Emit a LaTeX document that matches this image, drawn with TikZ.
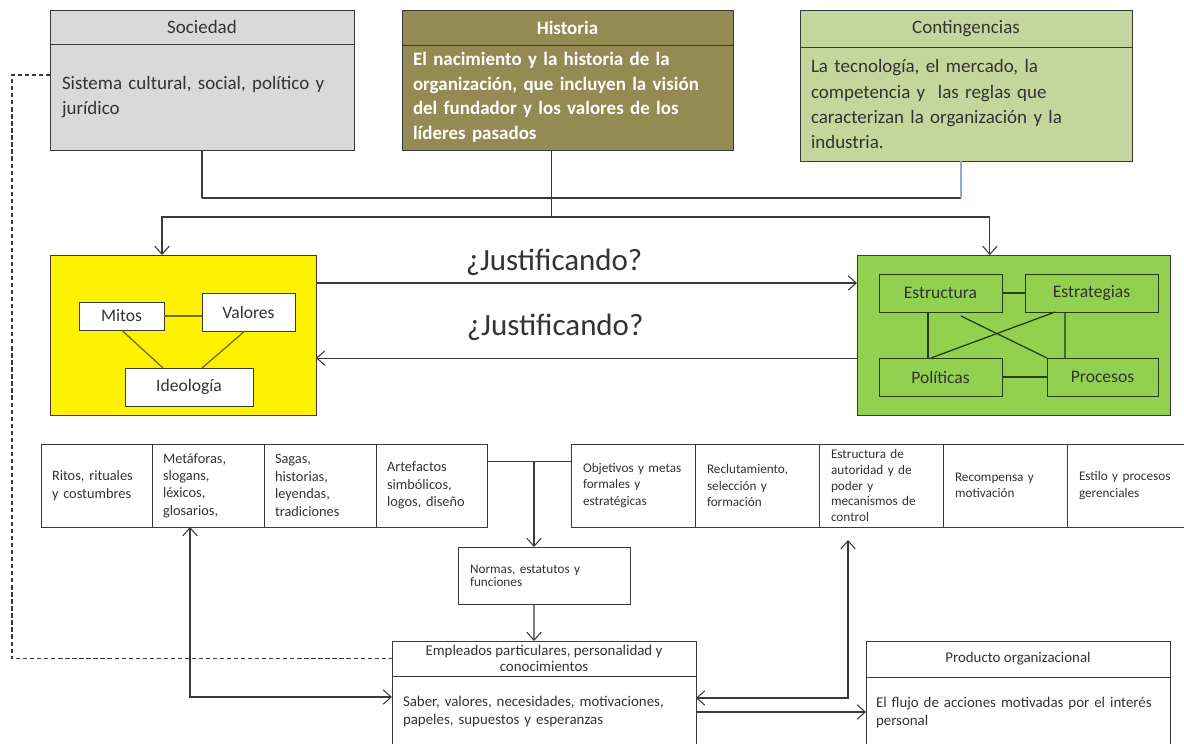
\documentclass[tikz,border=0pt]{standalone}
\usepackage{fontspec}
\setmainfont{Carlito}
\usetikzlibrary{positioning,arrows.meta,calc}
\definecolor{gris}{HTML}{D9D9D9}
\definecolor{oliva}{HTML}{948A54}
\definecolor{verdecl}{HTML}{C3D69B}
\definecolor{verde}{HTML}{92D050}
\definecolor{borde}{HTML}{3A3A3A}
\definecolor{texto}{HTML}{333333}
\definecolor{lineaol}{HTML}{6E6E00}
\definecolor{lineaver}{HTML}{203F12}
\definecolor{azul}{HTML}{8EAADB}
\tikzset{
  caja/.style={draw=borde, line width=0.7pt, outer sep=0pt, inner sep=0pt, text=texto},
  titulo/.style={caja, anchor=north west, font=\fontsize{13.5}{16}\selectfont},
  cuerpo/.style={caja, align=left, font=\fontsize{13.5}{17.8}\selectfont},
  celda/.style={caja, minimum height=20.75mm, align=left, inner xsep=2.75mm, font=\fontsize{10.2}{12.4}\selectfont},
  celdab/.style={caja, minimum height=20.75mm, align=left, inner xsep=3mm, text width=25mm, font=\fontsize{9.4}{11.8}\selectfont},
  interior/.style={caja, fill=white, font=\fontsize{12.5}{14}\selectfont},
  interiorv/.style={caja, draw=lineaver, fill=verde, minimum height=9.5mm, font=\fontsize{12.5}{14}\selectfont},
  linea/.style={draw=borde, line width=0.75pt},
  flecha/.style={linea, -{Straight Barb[length=2mm,width=3.6mm]}},
  flechas/.style={linea, {Straight Barb[length=2mm,width=3.6mm]}-{Straight Barb[length=2mm,width=3.6mm]}},
  jus/.style={font=\fontsize{22}{26}\selectfont, text=texto, inner sep=0pt}
}
\begin{document}
\begin{tikzpicture}[x=0.25mm, y=-0.25mm]
\useasboundingbox (0,0) rectangle (1184,744);
\clip (0,0) rectangle (1184,744);

% cajas de arriba
\node[titulo, fill=gris, minimum width=76mm, minimum height=8.5mm] (soct) at (50,10) {Sociedad};
\node[cuerpo, fill=gris, below=0pt of soct, minimum height=26.5mm, inner xsep=3mm, text width=70mm] (socb)
  {Sistema cultural, social, político y\\jurídico};

\node[titulo, fill=oliva, minimum width=82.75mm, minimum height=8.75mm, text=white, font=\fontsize{13.5}{16}\bfseries] (hist) at (402,10) {Historia};
\node[cuerpo, fill=oliva, below=0pt of hist, minimum height=26.25mm, inner xsep=2.75mm, text width=77.25mm, text=white, font=\fontsize{13.5}{17.5}\bfseries] (hisb)
  {El nacimiento y la historia de la\\organización, que incluyen la visión\\del fundador y los valores de los\\líderes pasados};

\node[titulo, fill=verdecl, minimum width=83mm, minimum height=9.25mm] (cont) at (800,10) {Contingencias};
\node[cuerpo, fill=verdecl, below=0pt of cont, minimum height=28.5mm, inner xsep=2.75mm, text width=77.5mm] (conb)
  {La tecnología, el mercado, la\\competencia y\ \ las reglas que\\caracterizan la organización y la\\industria.};

% union de las tres cajas
\draw[linea] (socb.south) -- ++(0,-12mm) coordinate (h1);
\coordinate (cx) at ([xshift=-1.25mm]conb.south);
\draw[linea] (h1) -- (h1 -| cx);
\draw[azul, line width=0.75pt] (cx) -- (cx |- h1);
\coordinate (hx) at ([xshift=-3.9mm]hisb.south);
\draw[linea] (hx) -- ++(0,-16.75mm) coordinate (h2);

% cajas del medio
\node[caja, fill=yellow, anchor=north west, minimum width=66.5mm, minimum height=40mm] (yel) at (50,255) {};
\node[interior, minimum width=21.25mm, minimum height=7mm] (mit) at (121.5,316) {Mitos};
\node[interior, minimum width=23.25mm, minimum height=9.5mm] (val) at (248.5,312) {Valores};
\node[interior, minimum width=32mm, minimum height=9.5mm] (ide) at (189,387) {Ideología};
\draw[lineaol, line width=0.9pt] (mit.east) -- (mit.east -| val.west);
\draw[lineaol, line width=0.9pt] (mit.south) -- ([xshift=-6.5mm]ide.north);
\draw[lineaol, line width=0.9pt] ([xshift=-0.9mm]val.south) -- ([xshift=3.25mm]ide.north);

\node[caja, fill=verde, anchor=north west, minimum width=78.25mm, minimum height=40mm] (grn) at (857,255) {};
\node[interiorv, minimum width=30.75mm] (estr) at (940.5,293) {Estructura};
\node[interiorv, minimum width=33.25mm] (estg) at (1091.5,293) {Estrategias};
\node[interiorv, minimum width=30.75mm] (pol) at (940.5,377) {Políticas};
\node[interiorv, minimum width=27.75mm] (proc) at (1102.5,377) {Procesos};
\draw[lineaver, line width=0.9pt] (estr.east) -- (estg.west);
\draw[lineaver, line width=0.9pt] ([xshift=-3.1mm]estr.south) -- ([xshift=-3.1mm]pol.north);
\draw[lineaver, line width=0.9pt] ([xshift=-6.6mm]estg.south) -- ([xshift=-9.4mm]proc.north);
\draw[lineaver, line width=0.9pt] ([xshift=5.1mm,yshift=-1mm]estr.south) -- (proc.north west);
\draw[lineaver, line width=0.9pt] ([xshift=-9.1mm]estg.south) -- ([xshift=-2.4mm]pol.north);
\draw[lineaver, line width=0.9pt] (pol.east) -- (proc.west);

\draw[flecha] (h2) -| ([xshift=-5.25mm]yel.north);
\draw[flecha] (h2) -| ([xshift=-5.9mm]grn.north);

\draw[flecha] ($(yel.north east)!0.175!(yel.south east)$) -- ($(grn.north west)!0.175!(grn.south west)$)
  node[jus, pos=0.44, yshift=5.2mm] (j1) {¿Justificando?};
\draw[flecha] ($(grn.north west)!0.644!(grn.south west)$) -- ($(yel.north east)!0.644!(yel.south east)$)
  node[jus, pos=0.558, yshift=7.75mm] (j2) {¿Justificando?};

% fila de la izquierda
\node[celda, anchor=north west, text width=22.25mm] (rit) at (41,444) {Ritos, rituales\\y costumbres};
\node[celda, right=0pt of rit, text width=22.5mm] (met) {Metáforas,\\slogans,\\léxicos,\\glosarios,};
\node[celda, right=0pt of met, text width=22.5mm] (sag) {Sagas,\\historias,\\leyendas,\\tradiciones};
\node[celda, right=0pt of sag, text width=22.25mm] (art) {Artefactos\\simbólicos,\\logos, diseño};

% fila de la derecha
\node[celdab, anchor=north west] (obj) at (571,444) {Objetivos y metas\\formales y\\estratégicas};
\node[celdab, right=0pt of obj] (rec) {Reclutamiento,\\selección y\\formación};
\node[celdab, right=0pt of rec, font=\fontsize{9.4}{11.2}\selectfont] (aut) {Estructura de\\autoridad y de\\poder y\\mecanismos de\\control};
\node[celdab, right=0pt of aut] (rcm) {Recompensa y\\motivación};
\node[celdab, right=0pt of rcm] (esg) {Estilo y procesos\\gerenciales};

% normas
\node[caja, anchor=north west, minimum width=43mm, minimum height=14.25mm, inner xsep=3mm, text width=37mm, align=left, font=\fontsize{9.4}{9.4}\selectfont] (nor) at (458,547) {Normas, estatutos y\\funciones};
\coordinate (k) at ([yshift=5.9mm]art.east);
\draw[linea] (k) -- (k -| obj.west);
\coordinate (nx) at ([xshift=-2.5mm]nor.north);
\draw[flecha] (nx |- k) -- (nx);

% empleados
\node[caja, anchor=north west, minimum width=76mm, minimum height=8.75mm, align=center, font=\fontsize{10.6}{11.5}\selectfont] (emph) at (392,641) {Empleados particulares, personalidad y\\conocimientos};
\node[caja, below=0pt of emph, minimum height=18mm, inner xsep=2.75mm, text width=70.5mm, align=left, font=\fontsize{10.6}{12.8}\selectfont] (emb) {Saber, valores, necesidades, motivaciones,\\papeles, supuestos y esperanzas};
\draw[flecha] ([xshift=-2.5mm]nor.south) -- ([xshift=-2.5mm]emph.north);

% producto
\node[caja, anchor=north west, minimum width=76mm, minimum height=9mm, font=\fontsize{10.6}{12}\selectfont] (prh) at (866,641) {Producto organizacional};
\node[caja, below=0pt of prh, minimum height=17.75mm, inner xsep=2.5mm, text width=71mm, align=left, font=\fontsize{10.6}{12.8}\selectfont] (prb) {El flujo de acciones motivadas por el interés\\personal};

% conexiones de abajo
\draw[flechas] ([xshift=-4.5mm]met.south) |- ([yshift=3.75mm]emb.west);
\draw[flechas] ([yshift=3.5mm]emb.east) -| ([xshift=-8.25mm,yshift=-3.25mm]aut.south);
\draw[flecha] (emb.east) -- (emb.east -| prb.west);
\draw[linea, dash pattern=on 3pt off 2pt] ([yshift=5.5mm]socb.west) -- ++(-9.5mm,0) |- (emph.west);
\end{tikzpicture}
\end{document}
